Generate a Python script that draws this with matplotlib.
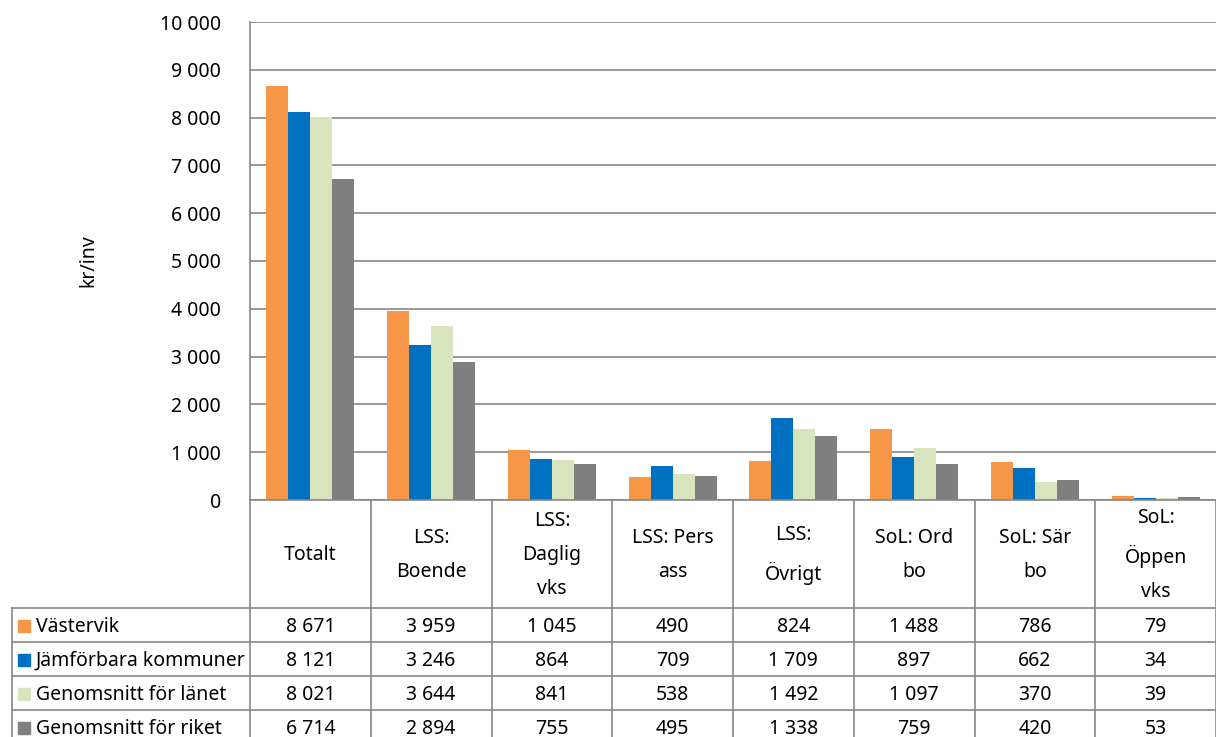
import matplotlib
matplotlib.use("Agg")
import matplotlib.pyplot as plt

plt.rcParams['font.family'] = ['Noto Sans', 'DejaVu Sans']

categories = ["Totalt", "LSS:\nBoende", "LSS:\nDaglig\nvks", "LSS: Pers\nass",
              "LSS:\nÖvrigt", "SoL: Ord\nbo", "SoL: Sär\nbo", "SoL:\nÖppen\nvks"]
series_names = ["Västervik", "Jämförbara kommuner", "Genomsnitt för länet", "Genomsnitt för riket"]
vastervik = [8671, 3959, 1045, 490, 824, 1488, 786, 79]
jamforbara = [8121, 3246, 864, 709, 1709, 897, 662, 34]
lanet = [8021, 3644, 841, 538, 1492, 1097, 370, 39]
riket = [6714, 2894, 755, 495, 1338, 759, 420, 53]
yticks = list(range(0, 10001, 1000))
colors = ["#F79646", "#0070C0", "#D7E4BD", "#7F7F7F"]
all_series = [vastervik, jamforbara, lanet, riket]

def fmt(v):
    return f"{v:,}".replace(",", " ")

W, H = 1216, 737
fs = 14
fig = plt.figure(figsize=(W / 100, H / 100), dpi=100)

# bar axes: pixels x 250..1216, y 22..500
ax = fig.add_axes([250 / W, (H - 500) / H, (W - 250) / W, (500 - 22) / H])
n = len(categories)
bw = 0.182
for k, (vals, c) in enumerate(zip(all_series, colors)):
    xs = [i + 0.5 + (k - 1.5) * bw for i in range(n)]
    ax.bar(xs, vals, width=bw, color=c, zorder=3)
ax.set_xlim(0, n)
ax.set_ylim(0, 10000)
ax.set_yticks(yticks)
ax.set_yticklabels([fmt(v) for v in yticks], fontsize=fs)
ax.tick_params(axis='y', length=0, pad=21)
ax.set_xticks([])
ax.grid(axis='y', color="#878787", linewidth=1.2, zorder=0)
for s in ["top", "right", "bottom"]:
    ax.spines[s].set_visible(False)
ax.spines["left"].set_color("#878787")
ax.spines["left"].set_linewidth(1.2)
ax.set_ylabel("kr/inv", fontsize=fs, labelpad=44)

# table axes: pixels x 12..1216, y 500..737
unit = (W - 250) / n
tx = fig.add_axes([12 / W, 0, (W - 12) / W, 237 / H])
tx.set_xlim(-(250 - 12) / unit, n)
tx.set_ylim(237, 0)
tx.axis("off")
lc = "#878787"
left = -(250 - 12) / unit
row_y = [108, 142, 176, 210, 244]
# vertical lines
for i in range(n + 1):
    tx.plot([i, i], [0, 244], color=lc, lw=1.2, clip_on=False)
tx.plot([left, left], [108, 244], color=lc, lw=1.2, clip_on=False)
tx.plot([0, n], [0, 0], color=lc, lw=1.2, clip_on=False)
for y in row_y:
    tx.plot([left, n], [y, y], color=lc, lw=1.2, clip_on=False)
# header
for i, cat in enumerate(categories):
    tx.text(i + 0.5, 55, cat, ha="center", va="center", fontsize=fs, linespacing=1.95)
# rows
for r, (name, vals, c) in enumerate(zip(series_names, all_series, colors)):
    yc = (row_y[r] + row_y[r + 1]) / 2 + 1.5
    tx.add_patch(plt.Rectangle((left + 6 / unit, yc - 7), 12 / unit, 12, color=c, clip_on=False))
    tx.text(left + 24 / unit, yc, name, ha="left", va="center", fontsize=fs)
    for i, v in enumerate(vals):
        tx.text(i + 0.5, yc, fmt(v), ha="center", va="center", fontsize=fs)

fig.savefig("out.png", dpi=100)
